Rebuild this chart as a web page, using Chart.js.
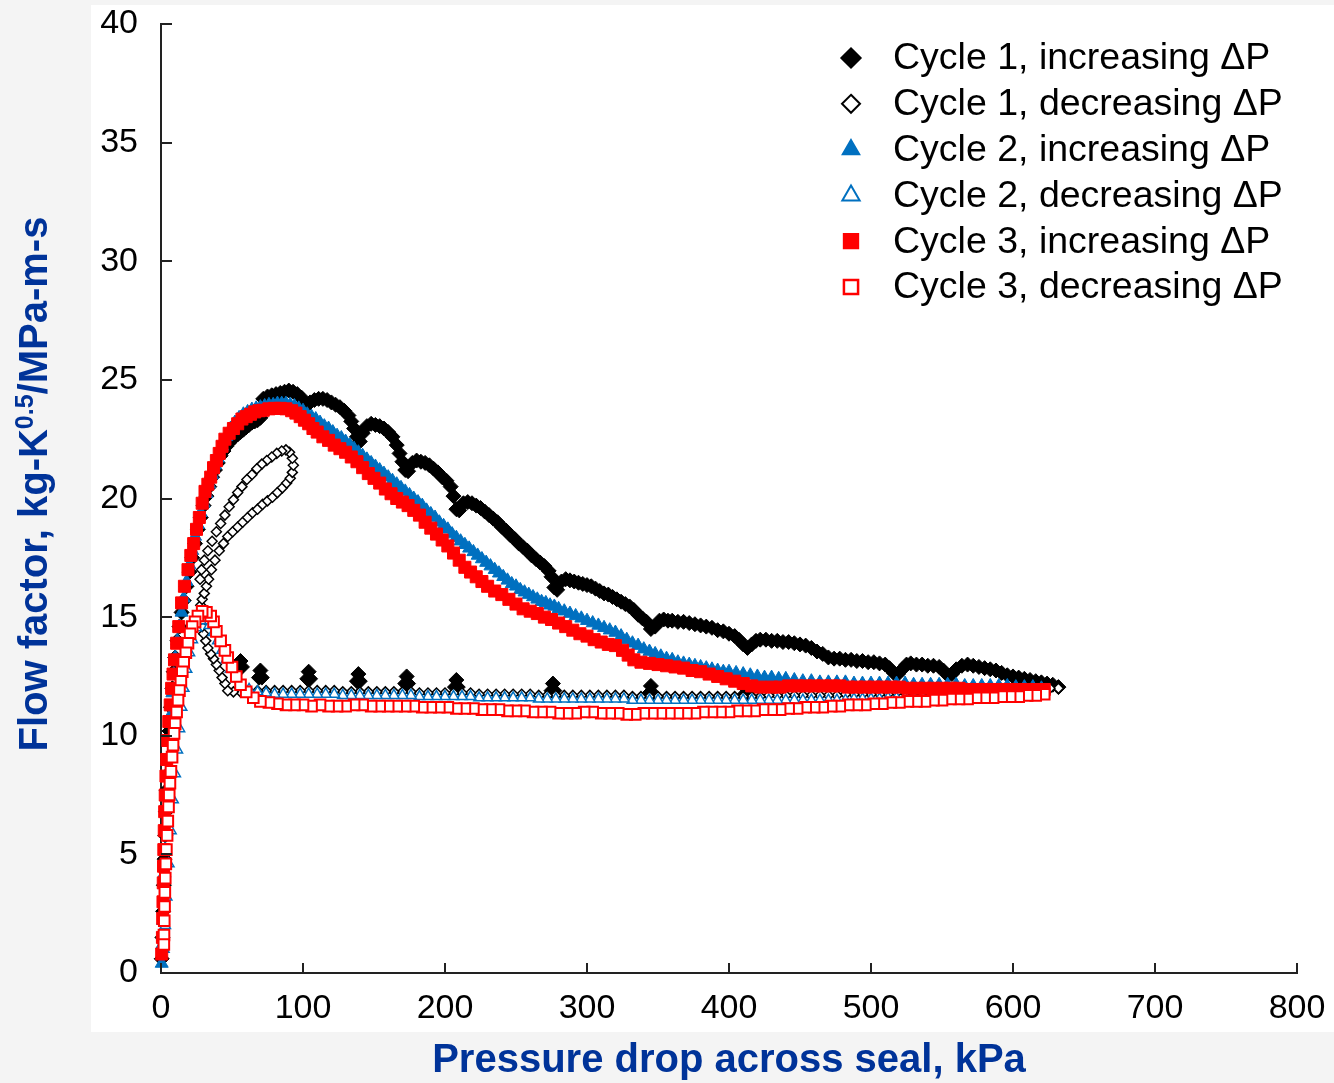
<!DOCTYPE html>
<html>
<head>
<meta charset="utf-8">
<title>Flow factor vs pressure drop</title>
<script src="https://cdn.jsdelivr.net/npm/chart.js@4.4.0/dist/chart.umd.min.js"></script>
<style>
  html, body { margin: 0; padding: 0; background: #f4f4f4; }
  canvas { display: block; }
</style>
</head>
<body>
<canvas id="chart" width="1334" height="1083"></canvas>
<script>
const xTicks = [0, 100, 200, 300, 400, 500, 600, 700, 800];
const yTicks = [0, 5, 10, 15, 20, 25, 30, 35, 40];
const seriesNames = [
  'Cycle 1, increasing ΔP',
  'Cycle 1, decreasing ΔP',
  'Cycle 2, increasing ΔP',
  'Cycle 2, decreasing ΔP',
  'Cycle 3, increasing ΔP',
  'Cycle 3, decreasing ΔP'
];
const xTitle = 'Pressure drop across seal, kPa';
const yTitleParts = ['Flow factor, kg-K', '0.5', '/MPa-m-s'];

// [pressure drop kPa, flow factor]
const cycle1Inc = [
  [0.5,0.6],[1,1.5],[1.5,2.6],[2,3.7],[2.5,4.8],[3,5.8],[3.5,6.8],[4,7.7],[5,9.0],[6,10.2],[7,11.2],[8,12.0],[9,12.7],[10,13.3],
  [11.5,14.0],[13,14.6],[14.5,15.2],[16,15.7],[18,16.3],[20,16.9],[22,17.5],[24,18.1],[26,18.7],[28,19.2],[30,19.7],[32,20.1],
  [34,20.5],[36,20.9],[38,21.2],[40,21.5],[42,21.8],[44,22.0],[46,22.2],[48,22.35],[50,22.5],[52,22.6],[54,22.7],[56,22.8],
  [58,22.9],[60,23.0],[62,23.1],[64,23.2],[66,23.25],[68,23.3],[70,23.4],
  [72,24.2],[75,24.3],[78,24.35],[81,24.4],[84,24.45],[87,24.5],[90,24.55],[93,24.5],[96,24.4],[99,24.25],[101,24.05],[103,23.95],
  [105,24.05],[108,24.15],[111,24.2],[114,24.2],[117,24.15],[120,24.05],[123,23.95],[126,23.85],[129,23.7],[132,23.5],[134,23.25],
  [136,22.95],[138,22.6],[140,22.4],[142,22.75],[145,23.05],[148,23.15],[151,23.1],[154,23.05],[157,22.95],[160,22.8],[163,22.6],
  [166,22.25],[168,21.9],[170,21.55],[172,21.2],[174,21.15],[177,21.5],[180,21.6],[183,21.55],[186,21.5],[189,21.4],[192,21.25],
  [195,21.1],[198,20.9],[201,20.75],[204,20.5],[206,20.1],[208,19.55],[210,19.5],[213,19.8],[216,19.85],[219,19.8],[222,19.7],
  [225,19.6],[228,19.45],[231,19.3],[234,19.15],[237,19.0],[240,18.8],[243,18.65],[246,18.45],[249,18.3],[252,18.1],[255,17.95],
  [258,17.8],[261,17.6],[264,17.45],[267,17.3],[270,17.15],[273,16.95],[275,16.7],[277,16.25],[279,16.15],[282,16.5],[285,16.6],
  [288,16.55],[291,16.5],[294,16.45],[297,16.4],[300,16.35],[303,16.3],[306,16.2],[309,16.1],[312,16.0],[315,15.95],[318,15.85],
  [321,15.75],[324,15.65],[327,15.55],[330,15.45],[333,15.3],[336,15.1],[339,14.95],[342,14.8],[345,14.5],[348,14.6],[351,14.85],
  [354,14.9],[357,14.85],[360,14.85],[364,14.8],[368,14.8],[372,14.75],[376,14.7],[380,14.65],[384,14.6],[388,14.55],[392,14.45],
  [396,14.4],[400,14.3],[404,14.2],[407,14.05],[410,13.85],[413,13.7],[416,13.85],[419,14.0],[422,14.05],[426,14.05],[430,14.0],
  [434,14.0],[438,13.95],[442,13.95],[446,13.9],[450,13.85],[454,13.8],[458,13.7],[462,13.55],[466,13.45],[470,13.3],[474,13.25],
  [478,13.25],[482,13.2],[486,13.2],[490,13.15],[494,13.15],[498,13.1],[502,13.1],[506,13.05],[510,13.0],[513,12.85],[516,12.65],
  [519,12.6],[522,12.8],[525,13.0],[528,13.05],[532,13.0],[536,13.0],[540,12.95],[544,12.95],[548,12.9],[551,12.75],[554,12.55],
  [557,12.6],[560,12.8],[564,12.95],[568,13.0],[572,12.95],[576,12.9],[580,12.85],[584,12.8],[588,12.75],[592,12.65],[596,12.55],
  [600,12.5],[604,12.45],[608,12.4],[612,12.35],[616,12.3],[620,12.25],[624,12.2],[628,12.15],[632,12.05],
  [55,12.9],[56,13.15],[57,12.9],
  [69,12.45],[70,12.75],[71,12.45],[103,12.4],[104,12.7],[105,12.4],[138,12.3],[139,12.6],[140,12.3],
  [172,12.2],[173,12.5],[174,12.2],[207,12.05],[208,12.35],[209,12.05],[275,11.9],[276,12.2],[277,11.9],
  [344,11.8],[345,12.1],[346,11.8],[411,11.75],[412,12.0],[413,11.75]
];

const cycle1Dec = [
  [632,12.0],[626,12.0],[620,11.95],[614,11.95],[608,11.95],[602,11.9],[596,11.9],[590,11.9],[584,11.9],[578,11.85],[572,11.85],
  [566,11.85],[560,11.85],[554,11.85],[548,11.8],[542,11.8],[536,11.8],[530,11.8],[524,11.8],[518,11.8],[512,11.75],[506,11.75],
  [500,11.75],[494,11.75],[488,11.75],[482,11.75],[476,11.7],[470,11.7],[464,11.7],[458,11.7],[452,11.7],[446,11.7],[440,11.7],
  [434,11.7],[428,11.7],[422,11.65],[416,11.65],[410,11.65],[404,11.65],[398,11.65],[392,11.65],[386,11.65],[380,11.65],[374,11.65],
  [368,11.65],[362,11.65],[356,11.65],[350,11.65],[344,11.65],[338,11.65],[332,11.65],[326,11.7],[320,11.7],[314,11.7],[308,11.7],
  [302,11.7],[296,11.7],[290,11.7],[284,11.7],[278,11.7],[272,11.7],[266,11.7],[260,11.75],[254,11.75],[248,11.75],[242,11.75],
  [236,11.75],[230,11.75],[224,11.75],[218,11.8],[212,11.8],[206,11.8],[200,11.8],[194,11.8],[188,11.8],[182,11.8],[176,11.85],
  [170,11.85],[164,11.85],[158,11.85],[152,11.85],[146,11.85],[140,11.85],[134,11.85],[128,11.85],[122,11.9],[116,11.9],[110,11.9],
  [104,11.9],[98,11.9],[92,11.9],[86,11.9],[80,11.9],[74,11.9],[68,11.9],[62,11.85],[56,11.85],[51,11.85],[47,11.9],[45,12.2],
  [43,12.45],[41,12.75],[39,13.0],[37,13.25],[35,13.45],[33,13.7],[31.5,14.0],[30,14.3],[29,14.6],[28,14.9],[27.5,15.2],
  [28,15.5],[29,15.75],[30.5,16.0],[32,16.3],[33.5,16.6],[35.5,17.0],[38,17.4],[41,17.8],[44,18.1],[47,18.4],[50.5,18.6],
  [54,18.8],[57.5,19.0],[61,19.2],[64.5,19.4],[68,19.55],[71.5,19.75],[75,19.9],[78.5,20.05],[82,20.25],[85.5,20.45],[88.5,20.65],
  [91,20.85],[92.5,21.1],[93.2,21.4],[92.5,21.7],[90.5,21.95],[88,22.05],[85,22.0],[81.5,21.9],[78,21.75],[74.5,21.6],[71,21.45],
  [67.5,21.25],[64,21.0],[60.5,20.8],[57,20.5],[54,20.25],[51,19.95],[48,19.65],[45,19.3],[42,18.95],[39,18.6],[36,18.2],
  [33,17.8],[30.5,17.4],[28.5,17.0],[27.5,16.6]
];

const cycle2Inc = [
  [0.5,0.4],[1,1.2],[1.5,2.2],[2,3.2],[2.5,4.2],[3,5.2],[3.5,6.1],[4,7.0],[5,8.5],[6,9.8],[7,10.9],[8,11.8],[9,12.6],[10,13.3],
  [11.5,14.0],[13,14.6],[14.5,15.2],[16,15.8],[18,16.5],[20,17.2],[22,17.8],[24,18.4],[26,18.9],[28,19.4],[30,19.8],[32,20.2],
  [34,20.6],[36,21.0],[38,21.4],[40,21.7],[43,22.2],[46,22.6],[49,22.95],[52,23.2],[55,23.4],[58,23.55],[61,23.65],[64,23.75],
  [67,23.8],[70,23.85],[73,23.9],[76,23.95],[79,23.95],[82,24.0],[85,24.0],[88,24.0],[91,23.95],[94,23.9],[97,23.8],[100,23.7],
  [103,23.55],[106,23.45],[109,23.35],[112,23.2],[115,23.05],[118,22.95],[121,22.8],[124,22.65],[127,22.55],[130,22.4],[133,22.25],
  [136,22.1],[139,21.95],[142,21.8],[145,21.65],[148,21.5],[151,21.35],[154,21.2],[157,21.05],[160,20.9],[163,20.75],[166,20.6],
  [169,20.45],[172,20.3],[175,20.15],[178,20.0],[181,19.85],[184,19.7],[187,19.5],[190,19.35],[193,19.2],[196,19.0],[199,18.85],
  [202,18.7],[205,18.5],[208,18.35],[211,18.2],[214,18.05],[217,17.9],[220,17.75],[223,17.6],[226,17.45],[229,17.3],[232,17.15],
  [235,17.0],[238,16.85],[241,16.7],[244,16.55],[247,16.4],[250,16.3],[253,16.15],[256,16.05],[259,15.95],[262,15.85],[265,15.75],
  [268,15.65],[271,15.6],[274,15.5],[277,15.45],[280,15.35],[284,15.25],[288,15.15],[292,15.05],[296,14.95],[300,14.85],[304,14.75],
  [308,14.65],[312,14.55],[316,14.45],[320,14.35],[324,14.2],[328,14.05],[332,13.9],[336,13.8],[340,13.65],[344,13.55],[348,13.45],
  [352,13.35],[356,13.25],[360,13.2],[364,13.1],[368,13.05],[372,13.0],[376,12.95],[380,12.9],[384,12.85],[388,12.8],[392,12.75],
  [396,12.7],[400,12.7],[405,12.65],[410,12.6],[415,12.55],[420,12.5],[425,12.45],[430,12.45],[435,12.4],[440,12.4],[446,12.35],
  [452,12.3],[458,12.3],[464,12.25],[470,12.25],[476,12.25],[482,12.25],[488,12.2],[494,12.2],[500,12.2],[506,12.2],[512,12.2],
  [518,12.2],[524,12.2],[530,12.15],[536,12.15],[542,12.15],[548,12.15],[554,12.15],[560,12.15],[566,12.1],[572,12.1],[578,12.1],
  [584,12.1],[590,12.1],[596,12.1],[602,12.05],[608,12.05],[614,12.05],[620,12.0]
];

const cycle2Dec = [
  [620,11.9],[614,11.85],[608,11.85],[602,11.8],[596,11.8],[590,11.8],[584,11.75],[578,11.75],[572,11.75],[566,11.7],[560,11.7],
  [554,11.7],[548,11.65],[542,11.65],[536,11.65],[530,11.6],[524,11.6],[518,11.6],[512,11.6],[506,11.55],[500,11.55],[494,11.55],
  [488,11.55],[482,11.5],[476,11.5],[470,11.5],[464,11.5],[458,11.5],[452,11.5],[446,11.5],[440,11.5],[434,11.5],[428,11.5],
  [422,11.5],[416,11.5],[410,11.5],[404,11.5],[398,11.5],[392,11.5],[386,11.5],[380,11.5],[374,11.5],[368,11.5],[362,11.5],
  [356,11.5],[350,11.5],[344,11.5],[338,11.5],[332,11.5],[326,11.55],[320,11.55],[314,11.55],[308,11.55],[302,11.55],[296,11.55],
  [290,11.55],[284,11.55],[278,11.55],[272,11.55],[266,11.55],[260,11.6],[254,11.6],[248,11.6],[242,11.6],[236,11.6],[230,11.6],
  [224,11.6],[218,11.65],[212,11.65],[206,11.65],[200,11.65],[194,11.65],[188,11.65],[182,11.65],[176,11.7],[170,11.7],[164,11.7],
  [158,11.7],[152,11.7],[146,11.7],[140,11.7],[134,11.7],[128,11.7],[122,11.75],[116,11.75],[110,11.75],[104,11.75],[98,11.75],
  [92,11.75],[86,11.75],[80,11.75],[74,11.8],[68,11.85],[62,11.95],[57,12.1],[53,12.4],[49,12.8],[46,13.2],[43,13.6],[40,14.0],
  [37,14.35],[34,14.65],[31,14.85],[28,14.85],[25,14.55],[22,14.05],[20,13.5],[18,12.8],[16,12.0],[14.5,11.2],[13,10.3],
  [11.5,9.4],[10,8.4],[8.5,7.3],[7,6.0],[5.5,4.6],[4,3.2],[3,2.0],[2,1.0]
];

const cycle3Inc = [
  [0.5,0.8],[1,1.5],[1.2,2.3],[1.4,3.0],[1.6,3.8],[1.8,4.5],[2,5.2],[2.3,6.0],[2.6,6.8],[3,7.5],[3.5,8.3],[4,9.0],[4.8,9.8],
  [5.5,10.6],[6.5,11.3],[7.5,12.0],[8.5,12.6],[9.5,13.2],[11,13.9],[12.5,14.6],[14.5,15.6],[16.5,16.3],[19,17.0],[21,17.6],
  [23,18.1],[25,18.7],[27,19.2],[29,19.8],[31,20.3],[33,20.6],[35,20.9],[37,21.3],[39,21.6],[41,21.9],[43,22.2],[45,22.5],
  [48,22.75],[51,22.95],[54,23.15],[57,23.35],[60,23.45],[63,23.55],[66,23.65],[69,23.7],[72,23.72],[76,23.78],[80,23.8],
  [84,23.8],[88,23.78],[92,23.7],[95,23.6],[98,23.45],[101,23.3],[104,23.15],[107,22.95],[110,22.8],[114,22.6],[118,22.45],
  [122,22.25],[126,22.1],[130,21.95],[134,21.75],[138,21.55],[142,21.3],[146,21.05],[150,20.85],[154,20.65],[158,20.4],[162,20.2],
  [166,20.0],[170,19.85],[174,19.7],[178,19.5],[182,19.3],[186,19.0],[190,18.75],[194,18.5],[198,18.25],[202,18.0],[206,17.7],
  [210,17.4],[214,17.1],[218,16.9],[222,16.7],[226,16.5],[230,16.3],[235,16.1],[240,15.95],[245,15.75],[250,15.55],[255,15.35],
  [260,15.25],[265,15.15],[270,15.0],[275,14.9],[280,14.75],[285,14.6],[290,14.45],[295,14.3],[300,14.2],[305,14.05],[310,13.95],
  [315,13.85],[320,13.8],[325,13.6],[329,13.4],[333,13.2],[338,13.1],[344,13.05],[350,13.0],[356,12.95],[362,12.9],[368,12.85],
  [374,12.75],[380,12.7],[386,12.6],[392,12.5],[398,12.4],[404,12.3],[410,12.2],[416,12.1],[422,12.05],[430,12.05],[436,12.05],
  [442,12.1],[448,12.1],[454,12.1],[460,12.1],[466,12.1],[472,12.1],[478,12.1],[484,12.05],[490,12.05],[496,12.05],[502,12.05],
  [508,12.05],[514,12.05],[520,12.05],[526,12.0],[532,12.0],[538,12.0],[544,12.0],[550,12.0],[556,12.0],[562,12.0],[568,11.95],
  [574,11.95],[580,11.95],[586,11.95],[592,11.95],[598,11.95],[604,11.95],[610,11.95],[616,11.95],[622,11.95]
];

const cycle3Dec = [
  [622,11.75],[616,11.7],[610,11.7],[604,11.65],[598,11.65],[592,11.65],[586,11.6],[580,11.6],[574,11.6],[568,11.55],[562,11.55],
  [556,11.55],[550,11.5],[544,11.5],[538,11.45],[532,11.45],[526,11.45],[520,11.4],[514,11.4],[508,11.35],[502,11.35],[496,11.3],
  [490,11.3],[484,11.3],[478,11.25],[472,11.25],[466,11.2],[460,11.2],[454,11.2],[448,11.15],[442,11.15],[436,11.1],[430,11.1],
  [424,11.1],[418,11.05],[412,11.05],[406,11.05],[400,11.0],[394,11.0],[388,11.0],[382,11.0],[376,10.95],[370,10.95],[364,10.95],
  [358,10.95],[352,10.95],[346,10.95],[340,10.95],[334,10.9],[328,10.9],[322,10.95],[316,10.95],[310,10.95],[304,11.0],[298,11.0],
  [292,10.95],[286,10.95],[280,10.95],[274,11.0],[268,11.0],[262,11.0],[256,11.05],[250,11.05],[244,11.05],[238,11.1],[232,11.1],
  [226,11.1],[220,11.15],[214,11.15],[208,11.15],[202,11.2],[196,11.2],[190,11.2],[184,11.2],[178,11.25],[172,11.25],[166,11.25],
  [160,11.25],[154,11.25],[148,11.25],[142,11.3],[136,11.3],[130,11.25],[124,11.25],[118,11.25],[112,11.3],[106,11.25],[100,11.3],
  [94,11.3],[88,11.3],[82,11.35],[76,11.4],[70,11.45],[65,11.6],[60,11.85],[56,12.15],[53,12.5],[50,12.9],[47,13.3],[45,13.6],
  [42,14.0],[39,14.4],[37,14.8],[35,15.05],[32,15.2],[29,15.25],[26,15.05],[24,14.8],[22,14.6],[20.5,14.3],[19,13.9],[17.5,13.5],
  [16,13.1],[15,12.7],[14,12.3],[13,11.9],[12,11.5],[11,11.0],[10,10.5],[9.2,10.1],[8.5,9.6],[7.8,9.1],[7,8.5],[6.3,8.0],
  [5.8,7.5],[5.3,7.0],[4.8,6.4],[4.3,5.8],[3.8,5.2],[3.4,4.6],[3.0,4.0],[2.7,3.4],[2.5,2.8],[2.3,2.2],[2.1,1.6],[2.0,1.2]
];

const FONT = '"Liberation Sans", Arial, Helvetica, sans-serif';
const BLUE = '#0070c0';
const RED = '#ff0000';
const BLACK = '#000000';
const TITLE_BLUE = '#003399';
const AXIS = '#222222';

const markers = [
  { data: cycle1Inc, shape: 'rectRot', r: 7.5, fill: BLACK, stroke: BLACK, lw: 1, legendR: 10 },
  { data: cycle1Dec, shape: 'rectRot', r: 5, fill: '#ffffff', stroke: BLACK, lw: 1.5, legendR: 9 },
  { data: cycle2Inc, shape: 'triangle', r: 7.5, fill: BLUE, stroke: BLUE, lw: 1, legendR: 10 },
  { data: cycle2Dec, shape: 'triangle', r: 6, fill: '#ffffff', stroke: BLUE, lw: 1.5, legendR: 10 },
  { data: cycle3Inc, shape: 'rect', r: 8.5, fill: RED, stroke: RED, lw: 1, legendR: 10.5 },
  { data: cycle3Dec, shape: 'rect', r: 7.5, fill: '#ffffff', stroke: RED, lw: 2, legendR: 10 }
];

const datasets = markers.map((m, i) => ({
  label: seriesNames[i],
  data: m.data.map(([x, y]) => ({ x, y })),
  pointStyle: m.shape,
  pointRadius: m.r,
  pointBackgroundColor: m.fill,
  pointBorderColor: m.stroke,
  pointBorderWidth: m.lw,
  showLine: false,
  clip: false,
  order: markers.length - i
}));

function drawMarker(ctx, shape, x, y, r, fill, stroke, lw) {
  ctx.beginPath();
  if (shape === 'rectRot') {
    ctx.moveTo(x, y - r); ctx.lineTo(x + r, y); ctx.lineTo(x, y + r); ctx.lineTo(x - r, y);
  } else if (shape === 'triangle') {
    ctx.moveTo(x, y - r); ctx.lineTo(x + r * 0.866, y + r * 0.5); ctx.lineTo(x - r * 0.866, y + r * 0.5);
  } else {
    const s = r * Math.SQRT1_2;
    ctx.rect(x - s, y - s, 2 * s, 2 * s);
  }
  ctx.closePath();
  ctx.fillStyle = fill; ctx.fill();
  ctx.strokeStyle = stroke; ctx.lineWidth = lw; ctx.stroke();
}

const background = {
  id: 'background',
  beforeDraw(chart) {
    const ctx = chart.ctx;
    ctx.save();
    ctx.fillStyle = '#f4f4f4';
    ctx.fillRect(0, 0, chart.width, chart.height);
    ctx.fillStyle = '#ffffff';
    ctx.fillRect(91, 5, chart.width - 91, 1027);
    ctx.restore();
  }
};

const inwardTicks = {
  id: 'inwardTicks',
  afterDraw(chart) {
    const { ctx, chartArea: a, scales: { x, y } } = chart;
    ctx.save();
    ctx.strokeStyle = AXIS;
    ctx.lineWidth = 2;
    ctx.beginPath();
    yTicks.forEach(v => {
      const p = Math.round(y.getPixelForValue(v));
      ctx.moveTo(a.left, p); ctx.lineTo(a.left + 11, p);
    });
    xTicks.forEach(v => {
      const p = Math.round(x.getPixelForValue(v));
      ctx.moveTo(p, a.bottom); ctx.lineTo(p, a.bottom - 10);
    });
    ctx.stroke();
    ctx.restore();
  }
};

const yTitle = {
  id: 'yTitle',
  afterDraw(chart) {
    const ctx = chart.ctx;
    const fonts = ['bold 40px ' + FONT, 'bold 25px ' + FONT, 'bold 40px ' + FONT];
    const shift = [0, -14, 0];
    ctx.save();
    ctx.translate(33, 484);
    ctx.rotate(-Math.PI / 2);
    ctx.fillStyle = TITLE_BLUE;
    ctx.textBaseline = 'alphabetic';
    ctx.textAlign = 'left';
    const widths = yTitleParts.map((t, i) => { ctx.font = fonts[i]; return ctx.measureText(t).width; });
    let cx = -widths.reduce((s, w) => s + w, 0) / 2;
    yTitleParts.forEach((t, i) => {
      ctx.font = fonts[i];
      ctx.fillText(t, cx, 14 + shift[i]);
      cx += widths[i];
    });
    ctx.restore();
  }
};

const insideLegend = {
  id: 'insideLegend',
  afterDraw(chart) {
    const ctx = chart.ctx;
    ctx.save();
    markers.forEach((m, i) => {
      const y = 58 + i * 45.8;
      drawMarker(ctx, m.shape, 851, y, m.legendR, m.fill, m.stroke, m.lw + 0.5);
      ctx.fillStyle = '#000';
      ctx.font = '37.5px ' + FONT;
      ctx.textBaseline = 'middle';
      ctx.textAlign = 'left';
      ctx.fillText(seriesNames[i], 893, y + 1);
    });
    ctx.restore();
  }
};

new Chart(document.getElementById('chart'), {
  type: 'scatter',
  data: { datasets },
  options: {
    responsive: false,
    animation: false,
    events: [],
    layout: { padding: { left: 0, top: 24, right: 37, bottom: 0 } },
    plugins: { legend: { display: false }, tooltip: { enabled: false } },
    scales: {
      x: {
        type: 'linear',
        min: 0,
        max: 800,
        afterBuildTicks: s => { s.ticks = xTicks.map(v => ({ value: v })); },
        afterFit: s => { s.height = 110; s.paddingLeft = 0; s.paddingRight = 0; },
        ticks: { autoSkip: false, maxRotation: 0, padding: 15, color: '#000', font: { family: FONT, size: 34 } },
        grid: { display: false, drawTicks: false },
        border: { display: true, color: AXIS, width: 2 },
        title: {
          display: true,
          text: xTitle,
          color: TITLE_BLUE,
          font: { family: FONT, size: 40, weight: 'bold', lineHeight: 1.1 },
          padding: { top: 0, bottom: 0 }
        }
      },
      y: {
        type: 'linear',
        min: 0,
        max: 40,
        afterBuildTicks: s => { s.ticks = yTicks.map(v => ({ value: v })); },
        afterFit: s => { s.width = 161; s.paddingTop = 0; s.paddingBottom = 0; },
        ticks: { autoSkip: false, padding: 23, color: '#000', font: { family: FONT, size: 34 } },
        grid: { display: false, drawTicks: false },
        border: { display: true, color: AXIS, width: 2 }
      }
    }
  },
  plugins: [background, inwardTicks, yTitle, insideLegend]
});
</script>
</body>
</html>
